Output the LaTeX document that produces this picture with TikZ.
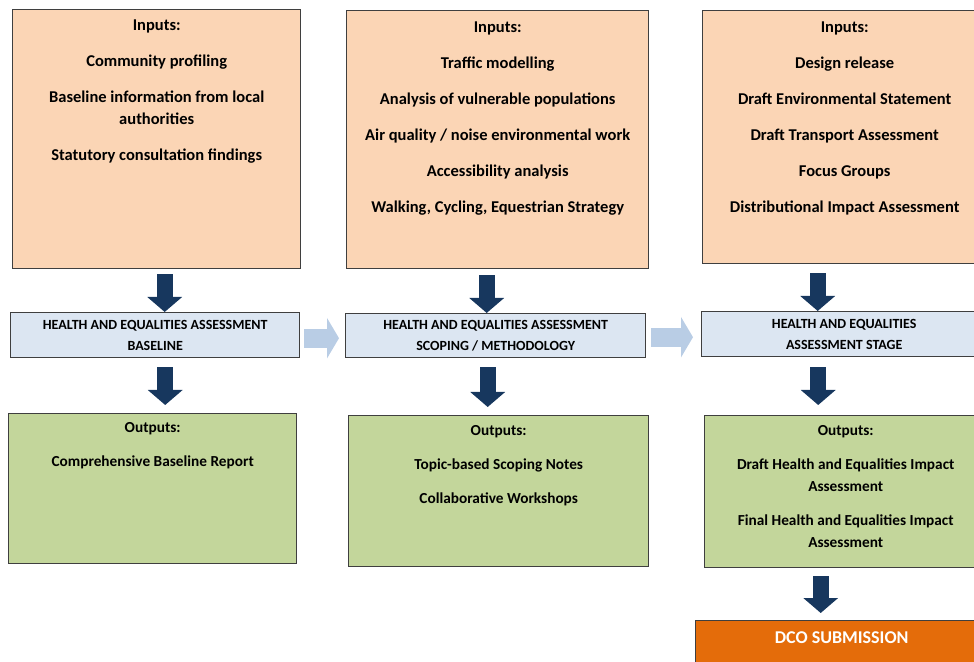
\documentclass[tikz,border=0pt]{standalone}
\usepackage{fontspec}
\setmainfont{Carlito}
\usepackage{xcolor}
\usetikzlibrary{positioning,arrows.meta}

\definecolor{inputfill}{HTML}{FBD5B5}
\definecolor{stagefill}{HTML}{DCE6F2}
\definecolor{outputfill}{HTML}{C3D69B}
\definecolor{dcofill}{HTML}{E46C0A}
\definecolor{navyarrow}{HTML}{17375E}
\definecolor{lightarrow}{HTML}{B9CDE5}
\definecolor{boxline}{HTML}{3F3F3F}

\begin{document}
\begin{tikzpicture}[x=0.5pt,y=-0.5pt,
    box/.style={draw=boxline,line width=0.7pt,anchor=north west,inner sep=0pt},
    inbox/.style={box,fill=inputfill},
    stagebox/.style={box,fill=stagefill,align=center,font=\fontsize{7}{10.5}\selectfont\bfseries},
    outbox/.style={box,fill=outputfill},
    boxtext/.style={anchor=north,align=center,inner sep=0pt,font=\fontsize{8.25}{11}\selectfont\bfseries},
    outtext/.style={boxtext,font=\fontsize{7.65}{11}\selectfont\bfseries},
    downarrow/.style={draw=navyarrow,line width=8pt,-{Triangle[length=7.5pt,width=17pt]}},
    sidearrow/.style={draw=lightarrow,line width=9.5pt,-{Triangle[length=6pt,width=20pt]}}]

    \clip (0,0) rectangle (974,662);

    % Inputs
    \node[inbox,minimum width=144pt,minimum height=129.5pt] (in1) at (12,9) {};
    \node[inbox,minimum width=151pt,minimum height=129pt] (in2) at (346,10) {};
    \node[inbox,minimum width=142pt,minimum height=126.5pt] (in3) at (702,10) {};
    \node[boxtext,below=3pt of in1.north] (in1txt) {\strut Inputs:\\[7pt]
        Community profiling\\[7pt]
        Baseline information from local\\ authorities\\[7pt]
        Statutory consultation findings};
    \node[boxtext,below=3.3pt of in2.north] (in2txt) {\strut Inputs:\\[7pt]
        Traffic modelling\\[7pt]
        Analysis of vulnerable populations\\[7pt]
        Air quality / noise environmental work\\[7pt]
        Accessibility analysis\\[7pt]
        Walking, Cycling, Equestrian Strategy};
    \node[boxtext,below=3.3pt of in3.north] (in3txt) {\strut Inputs:\\[7pt]
        Design release\\[7pt]
        Draft Environmental Statement\\[7pt]
        Draft Transport Assessment\\[7pt]
        Focus Groups\\[7pt]
        Distributional Impact Assessment};

    % Assessment stages
    \node[stagebox,minimum width=144.5pt,minimum height=22.5pt] (st1) at (10,312)
        {HEALTH AND EQUALITIES ASSESSMENT\\ BASELINE};
    \node[stagebox,minimum width=150pt,minimum height=22pt] (st2) at (345,313)
        {HEALTH AND EQUALITIES ASSESSMENT\\ SCOPING / METHODOLOGY};
    \node[stagebox,minimum width=142.5pt,minimum height=22.5pt] (st3) at (701,311)
        {HEALTH AND EQUALITIES\\ ASSESSMENT STAGE};

    % Outputs
    \node[outbox,minimum width=144pt,minimum height=75pt] (out1) at (8,413) {};
    \node[outbox,minimum width=150pt,minimum height=75.5pt] (out2) at (348,415) {};
    \node[outbox,minimum width=141pt,minimum height=76pt] (out3) at (704,415) {};
    \node[outtext,below=2pt of out1.north] (out1txt) {\strut Outputs:\\[6pt]
        Comprehensive Baseline Report};
    \node[outtext,below=2.3pt of out2.north] (out2txt) {\strut Outputs:\\[6pt]
        Topic-based Scoping Notes\\[6pt]
        Collaborative Workshops};
    \node[outtext,below=2.3pt of out3.north] (out3txt) {\strut Outputs:\\[6pt]
        Draft Health and Equalities Impact\\ Assessment\\[6pt]
        Final Health and Equalities Impact\\ Assessment};

    % Submission
    \node[box,fill=dcofill,minimum width=146pt,minimum height=30pt] (dco) at (695,620) {};
    \node[boxtext,text=white,font=\fontsize{9}{11}\selectfont\bfseries,below=3.7pt of dco.north] (dcotxt)
        {\strut DCO SUBMISSION};

    % Down arrows
    \draw[downarrow] ([xshift=4pt,yshift=-2.5pt]in1.south) -- ([xshift=4pt]in1.south |- st1.north);
    \draw[downarrow] ([xshift=-5.5pt,yshift=-3pt]in2.south) -- ([xshift=-5.5pt]in2.south |- st2.north);
    \draw[downarrow] ([xshift=-13.5pt,yshift=-4.5pt]in3.south) -- ([xshift=-13.5pt]in3.south |- st3.north);
    \draw[downarrow] ([xshift=5pt,yshift=-4.5pt]st1.south) -- ([xshift=5pt,yshift=4pt]st1.south |- out1.north);
    \draw[downarrow] ([xshift=-4pt,yshift=-4.5pt]st2.south) -- ([xshift=-4pt,yshift=4pt]st2.south |- out2.north);
    \draw[downarrow] ([xshift=-13pt,yshift=-5pt]st3.south) -- ([xshift=-13pt,yshift=5pt]st3.south |- out3.north);
    \draw[downarrow] ([xshift=-12.5pt,yshift=-4pt]out3.south) -- ([xshift=-12.5pt,yshift=3.5pt]out3.south |- dco.north);

    % Stage to stage
    \draw[sidearrow] ([xshift=2pt,yshift=-1.5pt]st1.east) -- ([xshift=-3pt,yshift=-1.5pt]st1.east -| st2.west);
    \draw[sidearrow] ([xshift=2.5pt,yshift=-0.75pt]st2.east) -- ([xshift=-4pt,yshift=-0.75pt]st2.east -| st3.west);
\end{tikzpicture}
\end{document}
